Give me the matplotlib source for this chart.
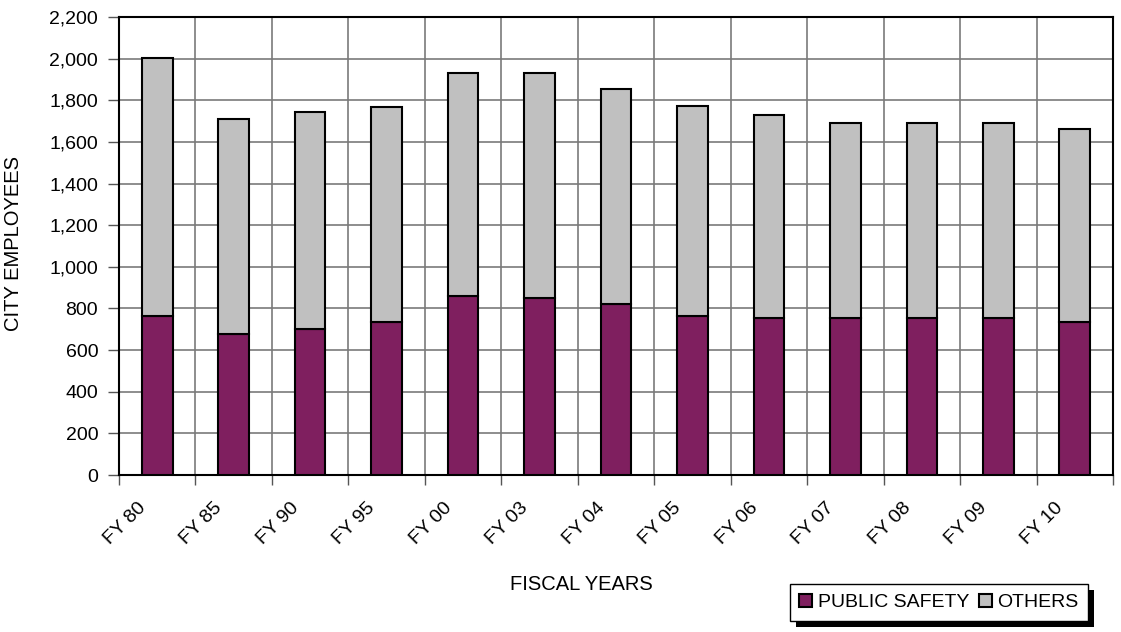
import matplotlib
matplotlib.use("Agg")
import matplotlib.pyplot as plt
import matplotlib.transforms as mtransforms
from matplotlib.patches import Rectangle
from matplotlib.ticker import FuncFormatter, MultipleLocator
import numpy as np

plt.rcParams['font.family'] = ['Liberation Sans', 'DejaVu Sans']

categories = ["FY 80", "FY 85", "FY 90", "FY 95", "FY 00", "FY 03", "FY 04",
              "FY 05", "FY 06", "FY 07", "FY 08", "FY 09", "FY 10"]
public_safety = [766, 678, 699, 737, 860, 852, 822, 766, 756, 756, 756, 756, 735]
totals = [2005, 1708, 1746, 1766, 1929, 1929, 1852, 1774, 1727, 1689, 1689, 1689, 1660]
others = [t - p for t, p in zip(totals, public_safety)]

W, H, DPI = 1121, 632, 100
fig = plt.figure(figsize=(W / DPI, H / DPI), dpi=DPI)
ax = fig.add_axes([119 / W, 1 - 475 / H, (1113 - 119) / W, (475 - 17) / H])

x = np.arange(len(categories))
purple = '#7f1f5f'
grey = '#c0c0c0'
ax.bar(x, public_safety, width=0.4, color=purple, edgecolor='black', linewidth=1.5,
       label='PUBLIC SAFETY', zorder=3)
ax.bar(x, others, width=0.4, bottom=public_safety, color=grey, edgecolor='black',
       linewidth=1.5, label='OTHERS', zorder=3)

ax.set_xlim(-0.5, len(categories) - 0.5)
ax.set_ylim(0, 2200)
ax.yaxis.set_major_locator(MultipleLocator(200))
ax.yaxis.set_major_formatter(FuncFormatter(lambda v, p: f"{int(v):,}"))

# major x ticks at category boundaries, labels on minor ticks at centres
ax.set_xticks(np.arange(len(categories) + 1) - 0.5)
ax.set_xticklabels([])
ax.set_xticks(x, minor=True)
ax.set_xticklabels(categories, minor=True, rotation=45, ha='right', va='center',
                   rotation_mode='anchor', fontsize=14)
ax.tick_params(axis='x', which='minor', length=0, pad=0)
ax.tick_params(axis='x', which='major', length=7, width=1, color='#555555', direction='out')
ax.tick_params(axis='y', which='major', length=8, width=1, color='#555555', direction='out',
               labelsize=14, pad=7)
offset = mtransforms.ScaledTranslation(-14 / DPI, -30 / DPI, fig.dpi_scale_trans)
for lab in ax.get_xticklabels(minor=True):
    lab.set_transform(lab.get_transform() + offset)

ax.grid(True, which='major', color='#7a7a7a', linewidth=1.2, zorder=0)
ax.set_axisbelow(True)
for s in ax.spines.values():
    s.set_color('black')
    s.set_linewidth(1.5)

fig.text(581 / W, 1 - 585 / H, 'FISCAL YEARS', ha='center', va='center', fontsize=14.5)
fig.text(14 / W, 1 - 331 / H, 'CITY EMPLOYEES', ha='center', va='bottom', rotation=90,
         fontsize=14.5)

leg = fig.legend(loc='center', bbox_to_anchor=(939 / W, 1 - 602.5 / H),
                 bbox_transform=fig.transFigure, ncol=2, frameon=True, fancybox=False,
                 fontsize=14, handlelength=0.65, handleheight=0.65, handletextpad=0.3,
                 columnspacing=0.5, borderpad=0.5, edgecolor='black', framealpha=1)
leg.get_frame().set_linewidth(1)
leg.set_zorder(5)

fig.canvas.draw()
bb = leg.get_window_extent()
shadow = Rectangle((bb.x0 + 6, bb.y0 - 6), bb.width, bb.height, transform=None,
                   facecolor='black', edgecolor='none', zorder=4)
fig.add_artist(shadow)

fig.savefig('out.png', dpi=DPI)
